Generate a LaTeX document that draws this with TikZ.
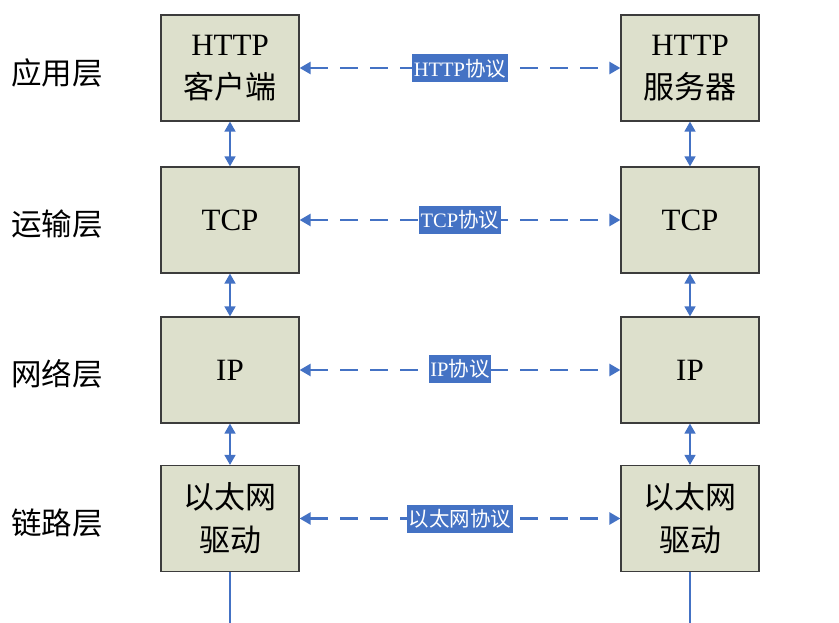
\documentclass[tikz,border=0pt]{standalone}
\usepackage{fontspec}
\setmainfont{Liberation Serif}
\newfontfamily\cjk{Noto Sans CJK SC}
\usetikzlibrary{arrows.meta}
\definecolor{boxfill}{RGB}{221,224,204}
\definecolor{boxline}{RGB}{60,60,60}
\definecolor{arrblue}{RGB}{68,114,196}
\begin{document}
\begin{tikzpicture}[x=1pt,y=-1pt,
  layerbox/.style={draw=boxline,line width=1.2pt,fill=boxfill,minimum width=138pt,minimum height=106pt,inner sep=0pt,align=center,font=\fontsize{31}{43}\selectfont},
  layername/.style={font=\fontsize{30.5}{34}\selectfont\cjk,inner sep=0pt},
  proto/.style={fill=arrblue,text=white,inner xsep=1.5pt,inner ysep=0pt,minimum height=28pt,font=\fontsize{20.5}{23}\selectfont},
  peer/.style={arrblue,line width=2.4pt,dash pattern=on 18pt off 12pt,{Triangle[length=11pt,width=12pt]}-{Triangle[length=11pt,width=12pt]}},
  stack/.style={arrblue,line width=1.5pt,{Triangle[length=10pt,width=11pt]}-{Triangle[length=10pt,width=11pt]}},
  wire/.style={arrblue,line width=1.5pt}]
\useasboundingbox (0,0) rectangle (839,623);
% left column
\node[layerbox] (l1) at (230,68) {HTTP\\{\cjk 客户端}};
\node[layerbox] (l2) at (230,220) {TCP};
\node[layerbox] (l3) at (230,370) {IP};
\node[layerbox] (l4) at (230,518.5) {{\cjk 以太网}\\{\cjk 驱动}};
% right column
\node[layerbox] (r1) at (690,68) {HTTP\\{\cjk 服务器}};
\node[layerbox] (r2) at (690,220) {TCP};
\node[layerbox] (r3) at (690,370) {IP};
\node[layerbox] (r4) at (690,518.5) {{\cjk 以太网}\\{\cjk 驱动}};
% layer names
\node[layername] (n1) at (57,73) {应用层};
\node[layername] (n2) at (57,224) {运输层};
\node[layername] (n3) at (57,374) {网络层};
\node[layername] (n4) at (57,523) {链路层};
% vertical arrows
\draw[stack] (l1.south) -- (l2.north);
\draw[stack] (l2.south) -- (l3.north);
\draw[stack] (l3.south) -- (l4.north);
\draw[stack] (r1.south) -- (r2.north);
\draw[stack] (r2.south) -- (r3.north);
\draw[stack] (r3.south) -- (r4.north);
% bottom wires
\coordinate (lb) at (230,623);
\coordinate (rb) at (690,623);
\draw[wire] (l4.south) -- (lb);
\draw[wire] (r4.south) -- (rb);
% peer protocols
\draw[peer] (l1.east) -- (r1.west);
\draw[peer] (l2.east) -- (r2.west);
\draw[peer] (l3.east) -- (r3.west);
\draw[peer] (l4.east) -- (r4.west);
\node[proto] (p1) at (460,68.5) {HTTP{\cjk 协议}};
\node[proto] (p2) at (460,220) {TCP{\cjk 协议}};
\node[proto] (p3) at (460,369) {IP{\cjk 协议}};
\node[proto] (p4) at (460,518.5) {{\cjk 以太网协议}};
\end{tikzpicture}
\end{document}
